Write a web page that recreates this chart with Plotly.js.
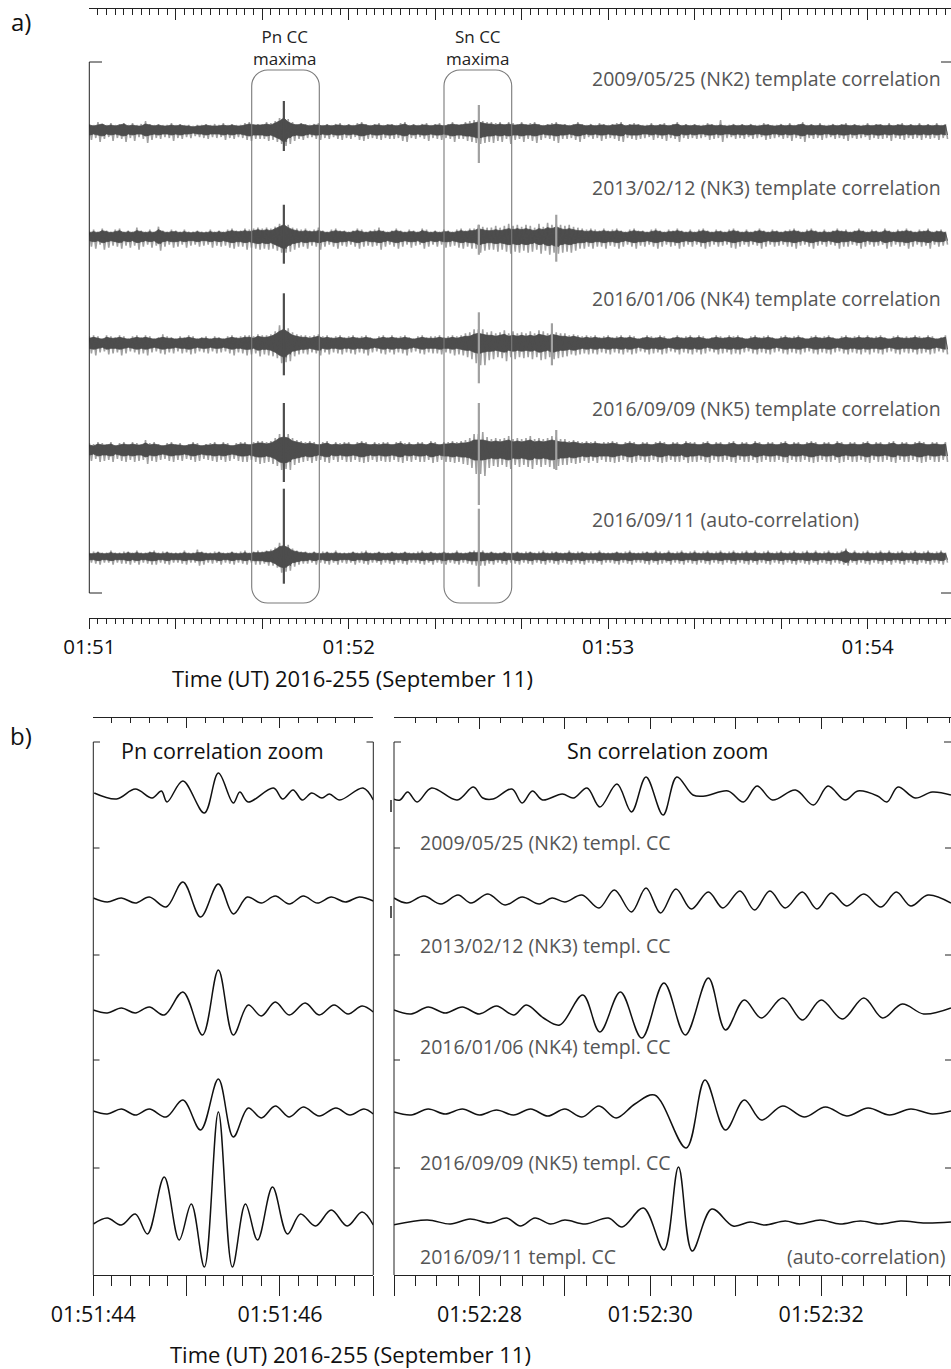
<!DOCTYPE html>
<html><head><meta charset="utf-8">
<script src="https://cdn.plot.ly/plotly-3.0.1.min.js"></script>
<style>html,body{margin:0;padding:0;overflow:hidden;background:#fff}</style>
</head><body><div id="chart" style="width:951px;height:1369px"></div>
<script>
// ---------------- DATA ----------------
// Panel a: per-second max/min envelope of each correlation trace (px-scaled CC amplitude), from 01:51:00
const core1=[5,4,5,6,4,5,4,5,6,4, 5,4,4,6,5,4,5,4,4,5, 4,5,4,4,3,4,4,5,4,4, 4,5,4,5,4,4,5,6,5,5, 5,6,5,7,9,12,8,6,5,6, 5,4,5,5,4,5,4,5,5,4, 5,4,5,6,5,4,5,5,4,5, 5,4,5,6,4,5,4,5,5,4, 5,5,4,5,6,5,5,6,6,7, 8,7,6,6,5,6,5,6,5,5, 6,5,5,6,5,4,5,5,6,5, 5,4,5,6,5,4,5,4,5,5, 4,5,5,6,4,5,5,5,4,4, 5,4,5,5,4,5,6,4,5,4, 5,4,4,5,5,4,5,4,4,5, 4,5,4,5,4,4,5,5,4,4, 5,4,5,4,5,6,4,5,4,5, 4,4,5,4,5,5,4,5,4,4, 5,4,5,5,4,5,4,5,5,4, 5,4,5,4,5,4,5,4,5];
const up1=[6,5,8,6,5,7,5,6,7,5, 7,5,6,9,6,5,6,5,5,7, 5,6,5,5,4,5,5,6,5,6, 5,7,5,6,5,5,7,8,6,6, 6,8,7,9,12,14,11,8,6,7, 6,5,6,7,5,6,5,6,7,5, 6,5,7,8,6,5,6,7,5,6, 6,5,7,8,5,6,5,6,7,5, 6,7,5,6,8,6,6,8,9,10, 10,9,8,8,7,8,6,8,7,6, 8,6,7,8,6,5,6,7,8,6, 6,5,6,8,6,5,6,5,7,6, 5,6,7,8,5,6,7,6,5,5, 7,5,6,7,5,6,8,5,6,5, 6,5,5,7,6,5,10,5,5,6, 5,6,5,6,5,5,7,6,5,5, 6,5,7,5,6,8,5,6,5,7, 5,5,6,5,6,7,5,6,5,5, 7,5,6,6,5,7,5,6,7,5, 6,5,7,5,6,5,7,5,6];
const dn1=[10,8,12,9,7,11,8,9,12,8, 11,7,9,13,10,8,9,7,8,11, 8,9,7,8,6,7,8,9,7,8, 7,10,8,9,7,8,10,11,9,9, 9,11,10,12,14,16,14,11,9,10, 8,7,9,10,8,9,7,9,10,8, 9,7,10,11,9,8,9,10,8,9, 9,8,11,12,8,9,7,9,11,8, 9,10,8,9,12,9,9,11,12,13, 14,13,12,13,11,12,9,14,10,9, 12,9,11,13,10,8,9,11,13,9, 9,8,10,12,9,7,9,8,11,9, 8,9,11,12,8,9,10,9,8,7, 10,8,9,11,8,9,12,8,9,8, 9,8,7,10,9,8,12,8,7,9, 8,9,7,9,8,7,10,9,8,7, 9,8,11,8,9,12,8,9,8,10, 8,7,9,8,9,11,8,9,8,7, 10,8,9,9,8,11,8,9,10,8, 9,8,10,8,9,8,10,8,9];

const core2=[4,5,4,6,5,4,5,6,4,5, 4,6,5,4,5,4,7,5,4,5, 5,4,5,4,4,5,4,4,5,4, 5,4,5,6,5,5,6,5,6,7, 6,7,6,8,10,12,9,7,6,5, 6,5,5,6,5,4,5,6,5,5, 4,5,6,5,4,5,5,6,5,4, 5,6,5,4,5,5,4,6,5,4, 5,4,5,5,4,5,6,5,6,6, 8,7,6,6,7,6,7,8,7,8, 7,8,7,6,8,7,9,8,10,8, 7,8,7,6,6,5,6,5,5,6, 5,5,6,5,4,5,6,5,5,4, 5,6,5,4,5,5,6,5,4,5, 4,5,6,5,4,5,5,4,5,6, 5,4,5,4,5,6,5,4,5,5, 4,5,5,6,5,4,5,6,5,4, 5,4,5,6,5,5,4,5,6,5, 4,5,5,4,6,5,4,5,5,6, 5,4,5,5,6,4,5,5,4];
const up2=[6,7,5,8,6,5,7,8,5,6, 5,9,6,5,7,5,10,6,5,7, 6,5,7,5,5,6,5,5,7,5, 6,5,7,8,6,6,8,7,8,9, 8,9,8,10,13,14,12,9,8,7, 8,6,7,9,6,5,7,8,6,6, 5,6,8,7,5,6,7,9,6,5, 6,8,6,5,7,6,5,8,7,5, 6,5,7,6,5,7,8,6,8,8, 12,10,9,9,11,9,11,13,11,12, 10,12,11,9,13,10,14,12,13,12, 11,12,10,9,8,7,8,7,6,8, 6,7,8,6,5,7,8,6,6,5, 7,8,6,5,7,6,8,6,5,7, 5,7,8,6,5,7,6,5,7,8, 6,5,7,5,6,8,6,5,7,6, 5,6,7,8,6,5,7,8,6,5, 7,5,6,8,6,7,5,6,8,6, 5,7,6,5,8,6,5,7,6,8, 6,5,7,6,8,5,6,7,5];
const dn2=[10,12,8,13,11,9,10,12,9,11, 9,13,10,8,11,9,14,10,8,11, 10,8,11,9,8,10,9,8,11,9, 10,9,11,12,10,10,13,11,12,13, 12,13,12,14,16,16,15,13,11,10, 12,9,10,13,10,8,10,12,9,10, 8,10,12,10,9,10,9,13,10,8, 10,12,10,8,11,9,8,12,10,8, 10,8,11,10,9,11,12,10,12,12, 16,14,13,13,15,13,15,17,15,16, 14,16,15,13,17,14,18,16,17,16, 15,16,14,12,12,10,12,10,10,12, 9,10,12,10,8,10,12,9,10,8, 10,12,10,8,10,9,12,10,8,10, 8,10,12,10,8,10,9,8,11,12, 10,8,10,8,9,12,10,8,10,9, 8,10,10,12,9,8,10,12,9,8, 10,8,9,12,10,10,8,9,12,10, 8,10,9,8,12,10,8,10,9,12, 10,8,10,9,12,8,10,9,8];

const core3=[5,6,5,4,6,5,5,6,5,4, 5,6,5,6,5,4,5,6,5,5, 4,5,5,6,5,4,5,5,4,5, 5,4,5,6,5,5,6,6,5,7, 6,6,7,9,12,14,11,8,7,6, 6,5,6,7,5,6,5,5,6,5, 5,6,5,5,6,5,4,5,6,5, 6,5,5,6,5,4,5,6,5,5, 5,6,5,5,6,5,6,7,7,9, 10,9,8,8,7,8,9,7,8,7, 8,7,8,7,9,8,7,9,8,7, 7,6,7,6,5,6,5,6,5,5, 6,5,5,6,5,6,5,4,5,6, 5,5,6,5,4,5,6,5,5,6, 5,6,5,4,5,6,5,5,6,5, 6,5,4,5,6,5,5,6,5,4, 5,6,5,5,6,5,4,5,6,5, 5,6,5,4,5,6,5,5,6,5, 6,5,5,6,5,4,5,6,5,5, 5,6,5,5,6,5,4,5,6];
const up3=[7,8,7,5,8,7,6,8,7,5, 7,8,6,8,7,5,6,9,7,6, 5,7,6,8,7,5,6,7,5,7, 6,5,7,8,6,7,8,8,7,9, 8,8,9,12,18,17,15,11,9,8, 8,7,8,9,7,8,6,7,8,6, 7,8,6,7,8,6,5,7,8,6, 8,6,7,8,6,5,7,8,6,7, 7,8,6,7,8,7,8,10,11,14, 14,14,11,12,10,11,13,10,12,10, 11,10,12,10,13,12,10,13,11,10, 10,8,9,8,7,8,7,8,6,7, 8,6,7,8,6,8,7,5,6,8, 7,6,8,7,5,6,8,6,7,8, 6,8,7,5,6,8,7,6,8,7, 8,6,5,7,8,6,7,8,6,5, 7,8,6,7,8,6,5,7,8,6, 7,8,6,5,7,8,6,7,8,6, 8,6,7,8,6,5,7,8,6,7, 6,8,7,6,8,7,5,6,8];
const dn3=[10,12,9,8,11,10,9,12,10,8, 9,11,10,12,9,8,10,11,9,10, 8,10,9,11,10,8,9,10,8,10, 9,8,10,12,9,10,12,11,10,13, 11,12,13,15,20,19,18,13,11,10, 11,9,10,12,9,11,9,10,11,9, 10,11,9,10,12,9,8,10,11,9, 11,9,10,12,9,8,10,11,9,10, 10,11,9,10,12,11,12,14,16,20, 22,22,17,16,14,15,18,14,16,14, 15,14,16,14,17,16,14,16,15,14, 13,11,12,11,10,11,10,11,9,10, 11,9,10,11,9,11,10,8,9,11, 10,9,11,10,8,9,11,9,10,11, 9,11,10,8,9,11,10,9,11,10, 11,9,8,10,11,9,10,11,9,8, 10,11,9,10,11,9,8,10,11,9, 10,11,9,8,10,11,9,10,11,9, 11,9,10,11,9,8,10,11,9,10, 9,11,10,9,11,10,8,9,11];

const core4=[5,4,6,5,5,6,4,5,6,5, 6,5,5,7,5,6,5,4,5,6, 5,5,4,5,6,5,4,5,5,6, 5,6,5,4,5,6,6,5,6,7, 7,6,7,9,12,13,12,9,8,7, 6,7,6,5,6,7,5,6,5,6, 6,5,6,7,6,5,6,5,6,6, 5,6,7,5,6,5,6,6,5,7, 6,5,6,6,7,6,7,7,8,10, 10,10,9,8,9,8,9,10,8,9, 8,9,10,8,9,8,9,10,9,8, 8,7,8,7,6,7,6,7,6,6, 6,7,6,5,6,7,6,5,6,6, 5,6,7,6,5,6,6,5,7,6, 6,5,6,7,5,6,6,5,6,7, 5,6,6,5,7,6,5,6,6,5, 6,7,5,6,6,5,6,7,6,5, 6,6,5,7,6,5,6,6,5,6, 7,5,6,6,5,6,7,5,6,6, 5,6,7,6,5,6,6,5,6];
const up4=[7,6,8,7,6,8,5,7,8,6, 8,7,6,10,7,8,6,5,7,8, 6,7,5,6,8,7,5,6,7,8, 6,8,7,5,7,8,8,6,8,9, 9,8,9,12,16,16,16,12,10,9, 8,9,8,6,8,9,6,8,7,8, 8,6,8,9,8,6,8,7,8,8, 6,8,9,7,8,6,8,8,6,9, 8,6,8,8,9,8,9,10,12,16, 16,18,13,11,12,11,12,14,11,12, 11,12,14,11,12,11,12,14,13,11, 11,9,10,9,8,9,8,9,7,8, 8,9,8,6,8,9,8,6,8,8, 6,8,9,8,6,8,8,6,9,8, 8,6,8,9,6,8,8,6,8,9, 6,8,8,6,9,8,6,8,8,6, 8,9,6,8,8,6,8,9,8,6, 8,8,6,9,8,6,8,8,6,8, 9,6,8,8,6,8,9,6,8,8, 6,8,9,8,6,8,8,6,8];
const dn4=[11,9,12,11,10,12,9,11,12,10, 12,11,10,14,11,12,10,9,11,12, 10,11,9,10,12,11,9,10,11,12, 10,12,11,9,11,12,12,10,12,14, 13,12,14,16,20,19,20,15,13,12, 11,13,11,10,12,13,10,12,10,12, 12,10,12,13,12,10,12,11,12,12, 10,12,13,11,12,10,12,12,10,13, 12,10,12,12,13,12,14,15,18,24, 24,26,18,16,17,15,17,19,15,17, 15,17,19,15,17,15,17,19,16,15, 15,13,14,13,11,13,11,13,10,12, 12,13,12,10,12,13,12,10,12,12, 10,12,13,12,10,12,12,10,13,12, 12,10,12,13,10,12,12,10,12,13, 10,12,12,10,13,12,10,12,12,10, 12,13,10,12,12,10,12,13,12,10, 12,12,10,13,12,10,12,12,10,12, 13,10,12,12,10,12,13,10,12,12, 10,12,13,12,10,12,12,10,12];

const core5=[3,3,4,3,3,4,3,3,3,4, 3,4,3,3,4,4,3,3,4,3, 3,3,4,3,3,4,4,3,3,3, 4,3,3,4,3,3,4,3,4,4, 4,5,5,7,10,11,9,6,5,4, 4,3,4,3,3,4,3,4,3,3, 3,4,3,3,4,3,3,4,3,3, 4,3,3,4,3,3,3,4,3,4, 3,3,4,3,3,4,3,3,4,4, 4,4,3,4,3,3,4,3,3,4, 3,3,4,3,3,4,3,3,4,3, 3,4,3,3,4,3,3,3,4,3, 3,3,4,3,3,4,3,3,3,4, 3,4,3,3,4,3,3,4,3,3, 4,3,3,4,3,3,4,3,3,4, 3,3,4,3,4,3,3,4,3,3, 4,3,3,4,3,3,4,3,4,3, 3,4,3,3,4,6,3,4,3,3, 4,3,3,4,3,4,3,3,4,3, 3,4,3,3,4,3,3,4,3];
const up5=[4,5,5,4,4,6,4,4,5,5, 4,6,4,4,5,6,4,5,5,4, 4,4,6,4,4,7,5,4,4,5, 5,4,4,5,4,5,6,4,5,6, 5,6,7,9,14,13,12,8,6,5, 5,4,5,4,5,5,4,6,4,4, 4,5,4,5,6,4,4,5,4,4, 5,4,4,5,4,4,5,6,4,5, 4,4,5,4,4,6,4,4,5,6, 6,6,4,5,4,4,5,4,4,5, 4,5,5,4,5,6,4,5,5,4, 4,6,4,5,5,4,5,4,6,4, 4,4,5,4,5,6,4,4,5,5, 4,6,5,4,6,4,5,6,4,5, 6,4,5,6,4,5,6,4,5,6, 4,5,6,4,6,4,5,6,4,5, 6,4,5,6,4,5,6,4,6,4, 5,6,4,5,6,8,4,6,4,5, 6,4,5,6,4,6,4,5,6,4, 5,6,4,5,6,4,5,6,4];
const dn5=[6,7,8,6,6,8,6,7,7,8, 6,8,6,7,8,8,6,7,8,6, 6,7,8,6,6,9,8,6,7,6, 8,6,7,8,6,7,8,6,8,8, 7,9,9,11,16,15,14,10,8,7, 7,6,8,6,7,8,6,8,6,7, 6,8,6,7,8,6,6,8,6,7, 8,6,7,8,6,6,7,8,6,8, 6,7,8,6,7,8,6,7,8,9, 9,9,7,8,6,7,8,6,7,8, 6,7,8,6,7,8,6,7,8,6, 7,8,6,7,8,6,7,6,8,6, 6,7,8,6,7,8,6,6,7,8, 6,8,7,6,8,6,7,8,6,7, 8,6,7,8,6,7,8,6,7,8, 6,7,8,6,8,6,7,8,6,7, 8,6,7,8,6,7,8,6,8,6, 7,8,6,7,8,9,6,8,6,7, 8,6,7,8,6,8,6,7,8,6, 7,8,6,7,8,6,7,8,6];

// Panel a: narrow CC spikes (trace index, time s after 01:51:00, up, down, tone)
const spikeTrace=[0,0,1,1,1,2,2,2,3,3,3,4,4];
const spikeTime=[45.0,90.1,45.0,90.1,108,45.0,90.1,107,45.0,90.1,108,45.0,90.1];
const spikeUp=[29,25,32,12,22,50,31,20,47,47,20,68,48];
const spikeDn=[21,33,27,18,25,32,40,22,32,55,20,27,30];
const spikeTone=['d','l','d','l','l','d','l','l','d','l','l','d','l'];

const aLabels=['2009/05/25 (NK2) template correlation','2013/02/12 (NK3) template correlation','2016/01/06 (NK4) template correlation','2016/09/09 (NK5) template correlation','2016/09/11 (auto-correlation)'];
const aTickVals=[0,20,40,60,80,100,120,140,160,180];
const aTickText=['01:51','','','01:52','','','01:53','','','01:54'];

// Panel b: waveform extrema (time s after 01:51:00, amplitude)
const pnT1=[44.01,44.25,44.45,44.63,44.73,44.79,44.96,45.19,45.34,45.50,45.57,45.66,45.93,46.03,46.14,46.24,46.34,46.45,46.53,46.64,46.89,47.0];
const pnA1=[2,-4,6,-3,4,-7,14,-18,22,-8,3,-7,7,-4,5,-5,2,-3,1,-5,7,-5];
const pnT2=[44.0,44.15,44.3,44.45,44.6,44.78,44.96,45.15,45.34,45.5,45.65,45.8,45.95,46.1,46.25,46.4,46.55,46.7,46.85,47.0];
const pnA2=[2,-2,2,-3,3,-7,18,-17,16,-14,3,-3,4,-4,4,-3,3,-2,3,-1];
const pnT3=[44.0,44.15,44.3,44.45,44.6,44.76,44.96,45.17,45.34,45.5,45.66,45.8,45.95,46.1,46.27,46.42,46.58,46.73,46.88,47.0];
const pnA3=[0,-3,2,-3,3,-5,18,-25,40,-25,5,-6,8,-5,7,-5,5,-4,4,-2];
const pnT4=[44.0,44.15,44.3,44.45,44.6,44.78,44.96,45.15,45.34,45.5,45.66,45.8,45.95,46.1,46.25,46.42,46.6,46.75,46.9,47.0];
const pnA4=[1,-2,3,-3,3,-5,12,-18,33,-25,4,-6,6,-5,5,-4,4,-3,3,-2];
const pnT5=[44.0,44.15,44.3,44.45,44.58,44.76,44.92,45.05,45.19,45.34,45.49,45.63,45.76,45.92,46.08,46.22,46.38,46.55,46.72,46.88,47.0];
const pnA5=[-2,4,-3,8,-12,45,-18,18,-45,110,-45,18,-18,35,-12,8,-4,12,-4,10,-3];

const snT1=[86.99,87.07,87.16,87.27,87.44,87.74,87.93,88.04,88.16,88.38,88.50,88.62,88.74,88.97,89.10,89.26,89.41,89.61,89.78,89.95,90.15,90.31,90.50,90.64,90.91,91.09,91.25,91.43,91.70,91.91,92.08,92.28,92.43,92.66,92.77,92.90,93.10,93.30,93.52];
const snA1=[-4,-5,3,-7,7,-5,8,-3,-4,6,-8,4,-5,1,-3,7,-12,11,-17,18,-20,18,0,-1,4,-7,9,-5,5,-10,9,-5,4,-1,-7,8,-3,3,0];
const snT2=[87.0,87.15,87.35,87.55,87.75,87.9,88.1,88.3,88.5,88.7,88.85,89.0,89.2,89.4,89.58,89.78,89.95,90.12,90.3,90.48,90.68,90.85,91.05,91.22,91.4,91.58,91.78,91.95,92.12,92.3,92.5,92.7,92.88,93.05,93.25,93.52];
const snA2=[2,-3,4,-4,5,-3,6,-5,3,-4,2,-2,5,-8,10,-12,12,-13,11,-9,8,-8,9,-10,9,-8,8,-9,7,-6,6,-7,8,-6,5,-3];
const snT3=[87.0,87.2,87.4,87.6,87.8,88.0,88.2,88.4,88.55,88.75,88.94,89.21,89.41,89.65,89.90,90.16,90.41,90.68,90.88,91.1,91.3,91.55,91.78,92.0,92.25,92.5,92.72,92.95,93.2,93.52];
const snA3=[0,-4,3,-3,3,-4,4,-5,5,-8,-15,15,-22,18,-28,27,-25,32,-20,10,-8,12,-10,10,-9,12,-8,6,-4,2];
const snT4=[87.0,87.2,87.4,87.6,87.8,88.0,88.2,88.4,88.6,88.8,89.0,89.2,89.4,89.6,89.82,90.05,90.42,90.64,90.88,91.1,91.3,91.55,91.8,92.05,92.3,92.55,92.8,93.05,93.3,93.52];
const snA4=[0,-3,3,-2,3,-3,2,-3,3,-4,3,-5,6,-6,8,17,-36,32,-18,12,-8,6,-5,5,-4,4,-3,3,-2,1];
const snT5=[86.99,87.39,87.66,87.89,88.12,88.32,88.48,88.65,88.83,89.0,89.24,89.51,89.67,89.92,90.16,90.33,90.49,90.72,90.97,91.17,91.34,91.58,91.75,91.99,92.22,92.46,92.69,92.93,93.22,93.52];
const snA5=[-3,2,-2,3,-1,4,-4,4,-2,2,-2,4,-5,14,-28,55,-29,13,-4,0,-3,1,-2,2,-2,1,-2,1,-1,0];

const bLabels=['2009/05/25 (NK2) templ. CC','2013/02/12 (NK3) templ. CC','2016/01/06 (NK4) templ. CC','2016/09/09 (NK5) templ. CC','2016/09/11 templ. CC'];
const bLeftTickVals=[44,45,46,47];
const bLeftTickText=['01:51:44','','01:51:46',''];
const bRightTickVals=[87,88,89,90,91,92,93];
const bRightTickText=['','01:52:28','','01:52:30','','01:52:32',''];

// ---------------- LAYOUT / RENDER ----------------
const W=951,H=1369;
const px=x=>x/W, py=y=>1-y/H;
const FONT="'Open Sans','Noto Sans',sans-serif";
const DARK='#4d4d4d', LIGHT='#a0a0a0', AX='#222';
const aOff=[0,-106.7,-213.3,-320,-426.7];
const bOff=[0,-105,-215,-317,-427];

const traces=[];
const aCore=[core1,core2,core3,core4,core5], aUp=[up1,up2,up3,up4,up5], aDn=[dn1,dn2,dn3,dn4,dn5];
// light: min/max decimated trace (each 1-s bin drawn from its max to its min)
function minmax(off,upA,dnA,color,w){
  const x=[],y=[];
  upA.forEach((u,j)=>{x.push(j,j+0.5);y.push(off+u,off-dnA[j]);});
  return {x,y,type:'scatter',mode:'lines',line:{color:color,width:w},xaxis:'x',yaxis:'y',hoverinfo:'skip'};
}
// dark: filled core envelope
function band(off,upA,dnA,color){
  const t=upA.map((_,i)=>i);
  const x=t.concat(t.slice().reverse());
  const y=upA.map(v=>off+v).concat(dnA.map(v=>off-v).reverse());
  return {x,y,type:'scatter',mode:'lines',fill:'toself',fillcolor:color,line:{color:color,width:0.8},xaxis:'x',yaxis:'y',hoverinfo:'skip'};
}
for(let i=0;i<5;i++){
  traces.push(minmax(aOff[i],aUp[i],aDn[i],LIGHT,1.6));
  traces.push(band(aOff[i],aCore[i],aCore[i],DARK));
  traces.push(minmax(aOff[i],aCore[i],aCore[i],DARK,0.9));
}
for(let k=0;k<spikeTrace.length;k++){
  const o=aOff[spikeTrace[k]];
  traces.push({x:[spikeTime[k],spikeTime[k]],y:[o+spikeUp[k],o-spikeDn[k]],type:'scatter',mode:'lines',
    line:{color:spikeTone[k]==='d'?DARK:LIGHT,width:2.2},xaxis:'x',yaxis:'y',hoverinfo:'skip'});
}
const pnT=[pnT1,pnT2,pnT3,pnT4,pnT5], pnA=[pnA1,pnA2,pnA3,pnA4,pnA5];
const snT=[snT1,snT2,snT3,snT4,snT5], snA=[snA1,snA2,snA3,snA4,snA5];
for(let i=0;i<5;i++){
  traces.push({x:pnT[i],y:pnA[i].map(v=>bOff[i]+v),type:'scatter',mode:'lines',line:{color:'#111',width:1.5,shape:'spline',smoothing:1},xaxis:'x3',yaxis:'y2',hoverinfo:'skip'});
  traces.push({x:snT[i],y:snA[i].map(v=>bOff[i]+v),type:'scatter',mode:'lines',line:{color:'#111',width:1.5,shape:'spline',smoothing:1},xaxis:'x5',yaxis:'y3',hoverinfo:'skip'});
}
// empty traces so the top (mirror) axes are drawn
[['x2','y'],['x4','y2'],['x6','y3']].forEach(a=>traces.push({x:[null],y:[null],type:'scatter',mode:'lines',xaxis:a[0],yaxis:a[1],hoverinfo:'skip'}));

const axBase={showgrid:false,zeroline:false,showline:true,linecolor:AX,linewidth:1,tickcolor:AX,tickwidth:1,fixedrange:true};
function minor(d,t0,len,side){return {tickmode:'linear',tick0:t0,dtick:d,ticks:side,ticklen:len,tickcolor:AX,tickwidth:1,showgrid:false};}
const fa={family:FONT,size:20.5,color:'#111'}, fb={family:FONT,size:21.5,color:'#111'};

const layout={
  width:W,height:H,margin:{l:0,r:0,t:0,b:0},paper_bgcolor:'#fff',plot_bgcolor:'rgba(0,0,0,0)',showlegend:false,hovermode:false,
  xaxis:Object.assign({},axBase,{domain:[px(89.3),1],range:[0,199.3],anchor:'y',tickmode:'array',tickvals:aTickVals,ticktext:aTickText,ticks:'outside',ticklen:10,tickfont:fa,minor:minor(2,0,5,'outside')}),
  xaxis2:Object.assign({},axBase,{domain:[px(89.3),1],range:[0,199.3],overlaying:'x',side:'top',anchor:'y',tickmode:'array',tickvals:aTickVals,ticks:'inside',ticklen:11,showticklabels:false,minor:minor(2,0,6,'inside')}),
  yaxis:{domain:[py(618),py(9.3)],range:[-488,120.7],visible:false,fixedrange:true},
  xaxis3:Object.assign({},axBase,{domain:[px(93.3),px(373.3)],range:[44,47],anchor:'y2',tickmode:'array',tickvals:bLeftTickVals,ticktext:bLeftTickText,ticks:'outside',ticklen:20,tickfont:fb,minor:minor(0.2,44,10,'outside')}),
  xaxis4:Object.assign({},axBase,{domain:[px(93.3),px(373.3)],range:[44,47],overlaying:'x3',side:'top',anchor:'y2',tickmode:'array',tickvals:bLeftTickVals,ticks:'inside',ticklen:10,showticklabels:false,minor:minor(0.2,44,5,'inside')}),
  yaxis2:{domain:[py(1275),py(718)],range:[-480,77],visible:false,fixedrange:true,anchor:'x3'},
  xaxis5:Object.assign({},axBase,{domain:[px(394),1],range:[87,93.52],anchor:'y3',tickmode:'array',tickvals:bRightTickVals,ticktext:bRightTickText,ticks:'outside',ticklen:20,tickfont:fb,minor:minor(0.25,87,10,'outside')}),
  xaxis6:Object.assign({},axBase,{domain:[px(394),1],range:[87,93.52],overlaying:'x5',side:'top',anchor:'y3',tickmode:'array',tickvals:bRightTickVals,ticks:'inside',ticklen:11,showticklabels:false,minor:minor(0.25,87,5,'inside')}),
  yaxis3:{domain:[py(1275),py(718)],range:[-480,77],visible:false,fixedrange:true,anchor:'x5'},
  shapes:[],annotations:[]
};

function seg(x0,y0,x1,y1,c,w){layout.shapes.push({type:'line',xref:'paper',yref:'paper',x0:px(x0),y0:py(y0),x1:px(x1),y1:py(y1),line:{color:c||AX,width:w||1}});}
function rbox(x0,y0,x1,y1,r,c){
  const k=0.5523*r;
  const P=(x,y)=>px(x)+','+py(y);
  const d='M '+P(x0+r,y0)+' L '+P(x1-r,y0)+' C '+P(x1-r+k,y0)+' '+P(x1,y0+r-k)+' '+P(x1,y0+r)+
    ' L '+P(x1,y1-r)+' C '+P(x1,y1-r+k)+' '+P(x1-r+k,y1)+' '+P(x1-r,y1)+
    ' L '+P(x0+r,y1)+' C '+P(x0+r-k,y1)+' '+P(x0,y1-r+k)+' '+P(x0,y1-r)+
    ' L '+P(x0,y0+r)+' C '+P(x0,y0+r-k)+' '+P(x0+r-k,y0)+' '+P(x0+r,y0)+' Z';
  layout.shapes.push({type:'path',xref:'paper',yref:'paper',path:d,line:{color:c,width:1.1},fillcolor:'rgba(0,0,0,0)',layer:'above'});
}
function txt(s,x,y,size,color,anchor){layout.annotations.push({text:s,xref:'paper',yref:'paper',x:px(x),y:py(y),xanchor:anchor||'center',yanchor:'middle',showarrow:false,font:{family:FONT,size:size,color:color}});}

// panel a brackets and boxes
seg(89.3,62,89.3,593); seg(89.3,62,102,62); seg(89.3,593,102,593);
seg(941,62,951,62); seg(941,593,951,593);
rbox(251.7,70,319.3,603,16,'#7a7a7a');
rbox(444,70,511.7,603,16,'#7a7a7a');
// panel b brackets
seg(93.3,742,93.3,1275); seg(93.3,742,100,742);
seg(373.3,742,373.3,1275); seg(366.5,742,373.3,742);
seg(394,742,394,1275); seg(394,742,401,742);
seg(944,742,951,742);
[848,955,1060,1168].forEach(y=>{seg(93.3,y,99.5,y); seg(394,y,400,y); seg(945,y,951,y);});
seg(391,800,391,812,AX,1.5); seg(391,906,391,918,AX,1.5);

// text
txt('a)',21,22,24,'#111');
txt('b)',21,735,24,'#111');
txt('Pn CC<br>maxima',285,47,17,'#222');
txt('Sn CC<br>maxima',478,47,17,'#222');
const aLabY=[79,188,299,408,519];
aLabels.forEach((s,i)=>txt(s,590,aLabY[i],19.5,'#555','left'));
txt('Time (UT) 2016-255 (September 11)',352,678,22,'#111');
txt('Pn correlation zoom',222,750,21.5,'#111');
txt('Sn correlation zoom',667,750,21.5,'#111');
const bLabY=[842,945,1046,1162,1256];
bLabels.forEach((s,i)=>txt(s,418,bLabY[i],19.5,'#555','left'));
txt('(auto-correlation)',948,1256,19.5,'#555','right');
txt('Time (UT) 2016-255 (September 11)',350,1354,22,'#111');

Plotly.newPlot('chart',traces,layout,{staticPlot:true,displayModeBar:false});
</script></body></html>
